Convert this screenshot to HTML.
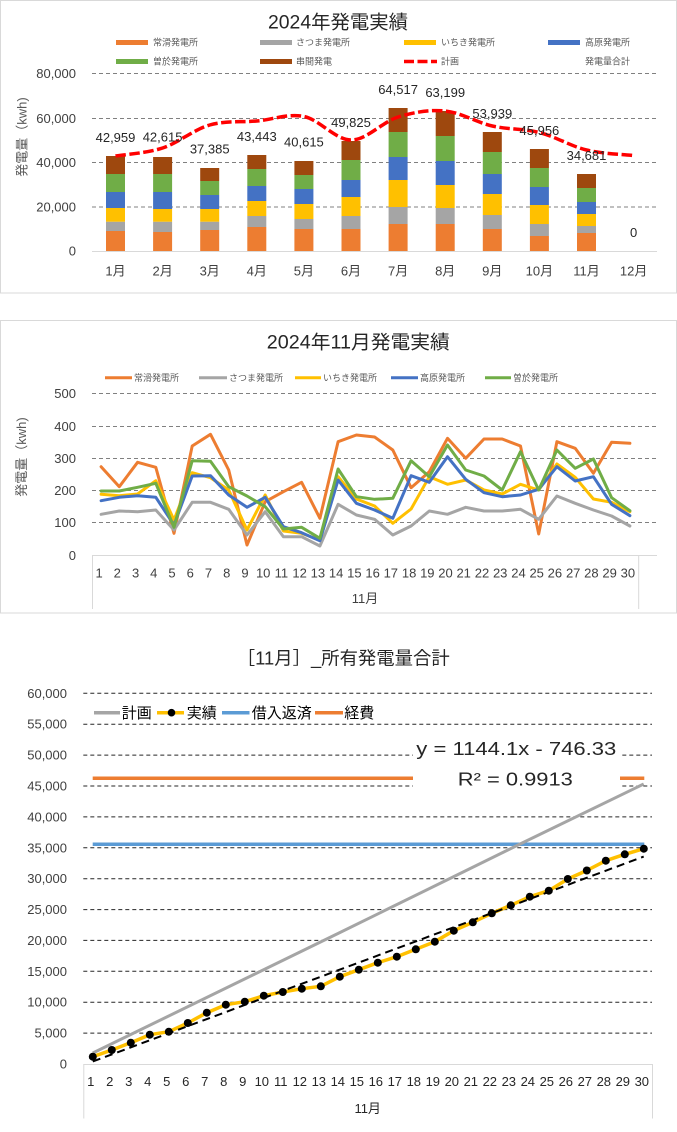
<!DOCTYPE html>
<html><head><meta charset="utf-8"><style>
html,body{margin:0;padding:0;background:#fff;}
svg{display:block;}
text{font-family:"Liberation Sans","Noto Sans CJK JP",sans-serif;}
</style></head><body>
<svg width="677" height="1132" viewBox="0 0 677 1132" xmlns="http://www.w3.org/2000/svg">
<rect x="0" y="0" width="677" height="1132" fill="#fff"/>

<!-- ================= CHART 1 ================= -->
<rect x="0.5" y="0.5" width="676" height="292.5" fill="#fff" stroke="#d9d9d9"/>
<text x="338" y="28.5" font-size="19" text-anchor="middle" fill="#262626" textLength="140" lengthAdjust="spacingAndGlyphs">2024年発電実績</text>

<!-- legend -->
<g font-size="9" fill="#595959">
<rect x="116" y="40" width="32" height="5" fill="#ED7D31"/><text x="153" y="45.5">常滑発電所</text>
<rect x="260" y="40" width="32" height="5" fill="#A5A5A5"/><text x="296" y="45.5">さつま発電所</text>
<rect x="404" y="40" width="32" height="5" fill="#FFC000"/><text x="441" y="45.5">いちき発電所</text>
<rect x="548" y="40" width="32" height="5" fill="#4472C4"/><text x="585" y="45.5">高原発電所</text>
<rect x="116" y="59" width="32" height="5" fill="#70AD47"/><text x="153" y="64.5">曽於発電所</text>
<rect x="260" y="59" width="32" height="5" fill="#9E480E"/><text x="296" y="64.5">串間発電</text>
<line x1="404" y1="61.5" x2="437" y2="61.5" stroke="#FF0000" stroke-width="3.5" stroke-dasharray="10 3.5"/><text x="441" y="64.5">計画</text>
<text x="585" y="64.5">発電量合計</text>
</g>

<!-- gridlines -->
<g stroke="#808080" stroke-width="1" stroke-dasharray="4 3">
<line x1="92" y1="73.5" x2="657" y2="73.5"/>
<line x1="92" y1="118.5" x2="657" y2="118.5"/>
<line x1="92" y1="162.5" x2="657" y2="162.5"/>
<line x1="92" y1="207" x2="657" y2="207"/>
</g>
<line x1="92" y1="251.5" x2="657" y2="251.5" stroke="#d9d9d9" stroke-width="1"/>

<g font-size="13" fill="#404040" text-anchor="end">
<text x="76" y="78">80,000</text>
<text x="76" y="123">60,000</text>
<text x="76" y="167">40,000</text>
<text x="76" y="211.5">20,000</text>
<text x="76" y="255.5">0</text>
</g>
<text transform="translate(26.5,137) rotate(-90)" font-size="13" fill="#595959" text-anchor="middle">発電量（kwh)</text>

<!-- bars -->
<g>
<rect x="106" y="231" width="19" height="20" fill="#ED7D31"/><rect x="106" y="221.7" width="19" height="9.3" fill="#A5A5A5"/><rect x="106" y="208" width="19" height="13.7" fill="#FFC000"/><rect x="106" y="192" width="19" height="16" fill="#4472C4"/><rect x="106" y="174" width="19" height="18" fill="#70AD47"/><rect x="106" y="156" width="19" height="18" fill="#9E480E"/>
<rect x="153.1" y="232" width="19" height="19" fill="#ED7D31"/><rect x="153.1" y="221.7" width="19" height="10.3" fill="#A5A5A5"/><rect x="153.1" y="209" width="19" height="12.7" fill="#FFC000"/><rect x="153.1" y="192" width="19" height="17" fill="#4472C4"/><rect x="153.1" y="174" width="19" height="18" fill="#70AD47"/><rect x="153.1" y="157" width="19" height="17" fill="#9E480E"/>
<rect x="200.2" y="230" width="19" height="21" fill="#ED7D31"/><rect x="200.2" y="221.7" width="19" height="8.3" fill="#A5A5A5"/><rect x="200.2" y="209" width="19" height="12.7" fill="#FFC000"/><rect x="200.2" y="195" width="19" height="14" fill="#4472C4"/><rect x="200.2" y="181" width="19" height="14" fill="#70AD47"/><rect x="200.2" y="168" width="19" height="13" fill="#9E480E"/>
<rect x="247.3" y="227" width="19" height="24" fill="#ED7D31"/><rect x="247.3" y="216" width="19" height="11" fill="#A5A5A5"/><rect x="247.3" y="201" width="19" height="15" fill="#FFC000"/><rect x="247.3" y="186" width="19" height="15" fill="#4472C4"/><rect x="247.3" y="169" width="19" height="17" fill="#70AD47"/><rect x="247.3" y="155" width="19" height="14" fill="#9E480E"/>
<rect x="294.4" y="229" width="19" height="22" fill="#ED7D31"/><rect x="294.4" y="219" width="19" height="10" fill="#A5A5A5"/><rect x="294.4" y="204" width="19" height="15" fill="#FFC000"/><rect x="294.4" y="189" width="19" height="15" fill="#4472C4"/><rect x="294.4" y="175" width="19" height="14" fill="#70AD47"/><rect x="294.4" y="161" width="19" height="14" fill="#9E480E"/>
<rect x="341.5" y="229" width="19" height="22" fill="#ED7D31"/><rect x="341.5" y="216" width="19" height="13" fill="#A5A5A5"/><rect x="341.5" y="197" width="19" height="19" fill="#FFC000"/><rect x="341.5" y="180" width="19" height="17" fill="#4472C4"/><rect x="341.5" y="160" width="19" height="20" fill="#70AD47"/><rect x="341.5" y="141" width="19" height="19" fill="#9E480E"/>
<rect x="388.6" y="224" width="19" height="27" fill="#ED7D31"/><rect x="388.6" y="207" width="19" height="17" fill="#A5A5A5"/><rect x="388.6" y="180" width="19" height="27" fill="#FFC000"/><rect x="388.6" y="157" width="19" height="23" fill="#4472C4"/><rect x="388.6" y="132" width="19" height="25" fill="#70AD47"/><rect x="388.6" y="108" width="19" height="24" fill="#9E480E"/>
<rect x="435.7" y="224" width="19" height="27" fill="#ED7D31"/><rect x="435.7" y="208" width="19" height="16" fill="#A5A5A5"/><rect x="435.7" y="185" width="19" height="23" fill="#FFC000"/><rect x="435.7" y="161" width="19" height="24" fill="#4472C4"/><rect x="435.7" y="136" width="19" height="25" fill="#70AD47"/><rect x="435.7" y="111" width="19" height="25" fill="#9E480E"/>
<rect x="482.8" y="229" width="19" height="22" fill="#ED7D31"/><rect x="482.8" y="215" width="19" height="14" fill="#A5A5A5"/><rect x="482.8" y="194" width="19" height="21" fill="#FFC000"/><rect x="482.8" y="174" width="19" height="20" fill="#4472C4"/><rect x="482.8" y="152" width="19" height="22" fill="#70AD47"/><rect x="482.8" y="132" width="19" height="20" fill="#9E480E"/>
<rect x="529.9" y="236" width="19" height="15" fill="#ED7D31"/><rect x="529.9" y="224" width="19" height="12" fill="#A5A5A5"/><rect x="529.9" y="205" width="19" height="19" fill="#FFC000"/><rect x="529.9" y="187" width="19" height="18" fill="#4472C4"/><rect x="529.9" y="168" width="19" height="19" fill="#70AD47"/><rect x="529.9" y="149" width="19" height="19" fill="#9E480E"/>
<rect x="577" y="233" width="19" height="18" fill="#ED7D31"/><rect x="577" y="226" width="19" height="7" fill="#A5A5A5"/><rect x="577" y="214" width="19" height="12" fill="#FFC000"/><rect x="577" y="202" width="19" height="12" fill="#4472C4"/><rect x="577" y="188" width="19" height="14" fill="#70AD47"/><rect x="577" y="174" width="19" height="14" fill="#9E480E"/>
</g>

<!-- plan line -->
<path d="M115.5,156 C123.35,154.67 146.9,153.17 162.6,148 C178.3,142.83 194,129.5 209.7,125 C225.4,120.5 241.1,122.42 256.8,121 C272.5,119.58 288.2,113.33 303.9,116.5 C319.6,119.67 335.3,139.92 351,140 C366.7,140.08 382.4,121.83 398.1,117 C413.8,112.17 429.5,109.5 445.2,111 C460.9,112.5 476.6,122.42 492.3,126 C508,129.58 523.7,128.5 539.4,132.5 C555.1,136.5 570.8,146.17 586.5,150 C602.2,153.83 625.75,154.58 633.6,155.5" fill="none" stroke="#FF0000" stroke-width="3.5" stroke-dasharray="10.5 3.5"/>

<!-- data labels -->
<g font-size="13" fill="#262626" text-anchor="middle">
<text x="115.5" y="141.8">42,959</text>
<text x="162.6" y="141.5">42,615</text>
<text x="209.7" y="153.5">37,385</text>
<text x="256.8" y="141.2">43,443</text>
<text x="303.9" y="146.5">40,615</text>
<text x="351" y="127.2">49,825</text>
<text x="398.1" y="93.8">64,517</text>
<text x="445.2" y="97.2">63,199</text>
<text x="492.3" y="117.8">53,939</text>
<text x="539.4" y="135.2">45,956</text>
<text x="586.5" y="160.2">34,681</text>
<text x="633.6" y="237.2">0</text>
</g>

<!-- month labels -->
<g font-size="13" fill="#404040" text-anchor="middle">
<text x="115.5" y="275.5">1月</text>
<text x="162.6" y="275.5">2月</text>
<text x="209.7" y="275.5">3月</text>
<text x="256.8" y="275.5">4月</text>
<text x="303.9" y="275.5">5月</text>
<text x="351" y="275.5">6月</text>
<text x="398.1" y="275.5">7月</text>
<text x="445.2" y="275.5">8月</text>
<text x="492.3" y="275.5">9月</text>
<text x="539.4" y="275.5">10月</text>
<text x="586.5" y="275.5">11月</text>
<text x="633.6" y="275.5">12月</text>
</g>

<!-- ================= CHART 2 ================= -->
<rect x="0.5" y="320.5" width="676" height="292.5" fill="#fff" stroke="#d9d9d9"/>
<text x="358.3" y="348.5" font-size="19" text-anchor="middle" fill="#262626" textLength="183" lengthAdjust="spacingAndGlyphs">2024年11月発電実績</text>

<g font-size="9" fill="#595959" stroke-width="3">
<line x1="105" y1="377.7" x2="132" y2="377.7" stroke="#ED7D31"/><text x="134" y="380.8">常滑発電所</text>
<line x1="199" y1="377.7" x2="227" y2="377.7" stroke="#A5A5A5"/><text x="229" y="380.8">さつま発電所</text>
<line x1="295" y1="377.7" x2="321" y2="377.7" stroke="#FFC000"/><text x="323" y="380.8">いちき発電所</text>
<line x1="391" y1="377.7" x2="418" y2="377.7" stroke="#4472C4"/><text x="420" y="380.8">高原発電所</text>
<line x1="485" y1="377.7" x2="511" y2="377.7" stroke="#70AD47"/><text x="513" y="380.8">曽於発電所</text>
</g>

<g stroke="#808080" stroke-width="1" stroke-dasharray="4 3">
<line x1="92" y1="393.5" x2="657" y2="393.5"/>
<line x1="92" y1="426.5" x2="657" y2="426.5"/>
<line x1="92" y1="458.5" x2="657" y2="458.5"/>
<line x1="92" y1="490.5" x2="657" y2="490.5"/>
<line x1="92" y1="522.5" x2="657" y2="522.5"/>
</g>
<g stroke="#d9d9d9" stroke-width="1">
<line x1="92" y1="555.5" x2="657" y2="555.5"/>
<line x1="92.5" y1="555.5" x2="92.5" y2="609"/>
<line x1="638.7" y1="555.5" x2="638.7" y2="609"/>
</g>

<g font-size="13" fill="#404040" text-anchor="end">
<text x="76" y="398">500</text>
<text x="76" y="431">400</text>
<text x="76" y="463">300</text>
<text x="76" y="495">200</text>
<text x="76" y="527">100</text>
<text x="76" y="560">0</text>
</g>
<text transform="translate(26,457) rotate(-90)" font-size="13" fill="#595959" text-anchor="middle">発電量（kwh)</text>

<g fill="none" stroke-width="3" stroke-linejoin="round" stroke-linecap="round">
<polyline stroke="#ED7D31" points="101.1,466.7 119.3,486.7 137.6,462.3 155.8,467.3 174,533.3 192.2,446 210.5,434.3 228.7,470 247,545 265.2,501.7 283.4,491.7 301.6,482.3 319.9,518.3 338.1,441.7 356.4,435 374.6,437 392.8,450 411.1,487.7 429.3,471.7 447.5,438.3 465.7,458.3 484,439 502.2,439 520.5,446 538.7,534 556.9,441.7 575.2,448.3 593.4,473.3 611.6,442.3 629.9,443.3"/>
<polyline stroke="#A5A5A5" points="101.1,514.3 119.3,511 137.6,511.7 155.8,510 174,530 192.2,502.3 210.5,502.3 228.7,509.3 247,535 265.2,511.7 283.4,536.7 301.6,536.7 319.9,546 338.1,504.3 356.4,515 374.6,519.3 392.8,535 411.1,526 429.3,511 447.5,514.3 465.7,507.3 484,511 502.2,511 520.5,509.3 538.7,519.3 556.9,496 575.2,503.3 593.4,510 611.6,516 629.9,526"/>
<polyline stroke="#FFC000" points="101.1,494.3 119.3,495.7 137.6,494 155.8,480.7 174,520 192.2,472.7 210.5,477.7 228.7,490 247,530 265.2,495 283.4,531 301.6,533.3 319.9,540 338.1,476.7 356.4,499 374.6,506 392.8,523.3 411.1,509 429.3,476.7 447.5,484.3 465.7,480 484,490 502.2,494 520.5,484.3 538.7,490 556.9,464 575.2,477.3 593.4,499 611.6,502.3 629.9,511.7"/>
<polyline stroke="#4472C4" points="101.1,500.7 119.3,497.3 137.6,495.7 155.8,497.3 174,525 192.2,476 210.5,475.7 228.7,495 247,507.3 265.2,497.3 283.4,526.7 301.6,532.7 319.9,540.7 338.1,480 356.4,503.3 374.6,510 392.8,518.3 411.1,475.7 429.3,482.3 447.5,456.7 465.7,479.3 484,492.7 502.2,496.7 520.5,495 538.7,489.3 556.9,466.7 575.2,481 593.4,476.7 611.6,504.3 629.9,515.7"/>
<polyline stroke="#70AD47" points="101.1,491 119.3,491 137.6,487.3 155.8,483.3 174,527.3 192.2,460.7 210.5,461.3 228.7,486.7 247,496 265.2,506.7 283.4,529 301.6,527.3 319.9,538.3 338.1,469 356.4,496.7 374.6,499.3 392.8,498.3 411.1,460.7 429.3,476.7 447.5,445 465.7,470 484,476 502.2,490 520.5,451.7 538.7,490 556.9,450 575.2,468.3 593.4,459 611.6,497.7 629.9,510.7"/>
</g>

<g font-size="13" fill="#404040" text-anchor="middle">
<text x="99.1" y="577.5">1</text><text x="117.3" y="577.5">2</text><text x="135.6" y="577.5">3</text><text x="153.8" y="577.5">4</text><text x="172" y="577.5">5</text><text x="190.2" y="577.5">6</text><text x="208.5" y="577.5">7</text><text x="226.7" y="577.5">8</text><text x="245" y="577.5">9</text><text x="263.2" y="577.5">10</text><text x="281.4" y="577.5">11</text><text x="299.6" y="577.5">12</text><text x="317.9" y="577.5">13</text><text x="336.1" y="577.5">14</text><text x="354.4" y="577.5">15</text><text x="372.6" y="577.5">16</text><text x="390.8" y="577.5">17</text><text x="409.1" y="577.5">18</text><text x="427.3" y="577.5">19</text><text x="445.5" y="577.5">20</text><text x="463.7" y="577.5">21</text><text x="482" y="577.5">22</text><text x="500.2" y="577.5">23</text><text x="518.5" y="577.5">24</text><text x="536.7" y="577.5">25</text><text x="554.9" y="577.5">26</text><text x="573.2" y="577.5">27</text><text x="591.4" y="577.5">28</text><text x="609.6" y="577.5">29</text><text x="627.9" y="577.5">30</text>
<text x="365" y="603">11月</text>
</g>

<!-- ================= CHART 3 ================= -->
<text x="343.3" y="664.5" font-size="18" text-anchor="middle" fill="#262626" textLength="213" lengthAdjust="spacingAndGlyphs">［11月］_所有発電量合計</text>

<g stroke="#262626" stroke-width="1" stroke-dasharray="4 3">
<line x1="83.3" y1="693.3" x2="652" y2="693.3"/>
<line x1="83.3" y1="724.2" x2="652" y2="724.2"/>
<line x1="83.3" y1="755.1" x2="652" y2="755.1"/>
<line x1="83.3" y1="786" x2="652" y2="786"/>
<line x1="83.3" y1="816.9" x2="652" y2="816.9"/>
<line x1="83.3" y1="847.8" x2="652" y2="847.8"/>
<line x1="83.3" y1="878.7" x2="652" y2="878.7"/>
<line x1="83.3" y1="909.6" x2="652" y2="909.6"/>
<line x1="83.3" y1="940.4" x2="652" y2="940.4"/>
<line x1="83.3" y1="971.3" x2="652" y2="971.3"/>
<line x1="83.3" y1="1002.2" x2="652" y2="1002.2"/>
<line x1="83.3" y1="1033.1" x2="652" y2="1033.1"/>
</g>
<g stroke="#d9d9d9" stroke-width="1">
<line x1="83.3" y1="1064.5" x2="653" y2="1064.5"/>
<line x1="83.8" y1="1064.5" x2="83.8" y2="1118.5"/>
<line x1="652.5" y1="1064.5" x2="652.5" y2="1118.5"/>
</g>

<g font-size="13" fill="#404040" text-anchor="end">
<text x="67" y="697.8">60,000</text>
<text x="67" y="728.7">55,000</text>
<text x="67" y="759.6">50,000</text>
<text x="67" y="790.5">45,000</text>
<text x="67" y="821.4">40,000</text>
<text x="67" y="852.3">35,000</text>
<text x="67" y="883.2">30,000</text>
<text x="67" y="914.1">25,000</text>
<text x="67" y="944.9">20,000</text>
<text x="67" y="975.8">15,000</text>
<text x="67" y="1006.7">10,000</text>
<text x="67" y="1037.6">5,000</text>
<text x="67" y="1068.5">0</text>
</g>

<!-- legend -->
<g font-size="15" fill="#000">
<line x1="94" y1="712.7" x2="120" y2="712.7" stroke="#A5A5A5" stroke-width="3.5"/><text x="121.7" y="718">計画</text>
<line x1="157" y1="712.7" x2="184" y2="712.7" stroke="#FFC000" stroke-width="3.5"/><circle cx="171.5" cy="712.7" r="3.8" fill="#000"/><text x="186.7" y="718">実績</text>
<line x1="222" y1="712.7" x2="249.5" y2="712.7" stroke="#5B9BD5" stroke-width="3.5"/><text x="251.7" y="718">借入返済</text>
<line x1="315" y1="712.7" x2="343" y2="712.7" stroke="#ED7D31" stroke-width="3.5"/><text x="344.3" y="718">経費</text>
</g>

<!-- series -->
<line x1="92.7" y1="778.3" x2="644.3" y2="778.3" stroke="#ED7D31" stroke-width="3.5"/>
<line x1="92.7" y1="844.3" x2="644.3" y2="844.3" stroke="#5B9BD5" stroke-width="3.5"/>
<polyline fill="none" stroke="#A5A5A5" stroke-width="3" stroke-linejoin="round" points="92.8,1053 340,932.5 455,876 517,845.5 643.7,784"/>
<polyline fill="none" stroke="#FFC000" stroke-width="3.5" stroke-linejoin="round" points="92.8,1056.7 111.8,1050 130.8,1042.7 149.8,1034.7 168.8,1031.7 187.8,1023 206.8,1012.7 225.8,1004.7 244.8,1001.7 263.8,995.7 282.8,992 301.8,988.7 320.8,986.3 339.8,976.7 358.8,969.7 377.8,962.7 396.8,956.7 415.8,949.3 434.8,941.7 453.8,930.7 472.8,922.3 491.8,913.3 510.8,905.3 529.8,896.7 548.8,890.7 567.8,879 586.8,870.5 605.8,860.7 624.8,854.3 643.8,848.7"/>
<line x1="92.8" y1="1061.5" x2="643.7" y2="856.6" stroke="#000" stroke-width="2" stroke-dasharray="8 5"/>
<g fill="#000">
<circle cx="92.8" cy="1056.7" r="4"/><circle cx="111.8" cy="1050" r="4"/><circle cx="130.8" cy="1042.7" r="4"/><circle cx="149.8" cy="1034.7" r="4"/><circle cx="168.8" cy="1031.7" r="4"/><circle cx="187.8" cy="1023" r="4"/><circle cx="206.8" cy="1012.7" r="4"/><circle cx="225.8" cy="1004.7" r="4"/><circle cx="244.8" cy="1001.7" r="4"/><circle cx="263.8" cy="995.7" r="4"/><circle cx="282.8" cy="992" r="4"/><circle cx="301.8" cy="988.7" r="4"/><circle cx="320.8" cy="986.3" r="4"/><circle cx="339.8" cy="976.7" r="4"/><circle cx="358.8" cy="969.7" r="4"/><circle cx="377.8" cy="962.7" r="4"/><circle cx="396.8" cy="956.7" r="4"/><circle cx="415.8" cy="949.3" r="4"/><circle cx="434.8" cy="941.7" r="4"/><circle cx="453.8" cy="930.7" r="4"/><circle cx="472.8" cy="922.3" r="4"/><circle cx="491.8" cy="913.3" r="4"/><circle cx="510.8" cy="905.3" r="4"/><circle cx="529.8" cy="896.7" r="4"/><circle cx="548.8" cy="890.7" r="4"/><circle cx="567.8" cy="879" r="4"/><circle cx="586.8" cy="870.5" r="4"/><circle cx="605.8" cy="860.7" r="4"/><circle cx="624.8" cy="854.3" r="4"/><circle cx="643.8" cy="848.7" r="4"/>
</g>

<!-- trendline label -->
<rect x="413" y="730" width="207" height="60" fill="#fff"/>
<text x="516.3" y="755" font-size="18" fill="#262626" text-anchor="middle" textLength="200" lengthAdjust="spacingAndGlyphs">y = 1144.1x - 746.33</text>
<text x="515.3" y="785.5" font-size="18" fill="#262626" text-anchor="middle" textLength="115" lengthAdjust="spacingAndGlyphs">R² = 0.9913</text>

<g font-size="13" fill="#262626" text-anchor="middle">
<text x="90.8" y="1086">1</text><text x="109.8" y="1086">2</text><text x="128.8" y="1086">3</text><text x="147.8" y="1086">4</text><text x="166.8" y="1086">5</text><text x="185.8" y="1086">6</text><text x="204.8" y="1086">7</text><text x="223.8" y="1086">8</text><text x="242.8" y="1086">9</text><text x="261.8" y="1086">10</text><text x="280.8" y="1086">11</text><text x="299.8" y="1086">12</text><text x="318.8" y="1086">13</text><text x="337.8" y="1086">14</text><text x="356.8" y="1086">15</text><text x="375.8" y="1086">16</text><text x="394.8" y="1086">17</text><text x="413.8" y="1086">18</text><text x="432.8" y="1086">19</text><text x="451.8" y="1086">20</text><text x="470.8" y="1086">21</text><text x="489.8" y="1086">22</text><text x="508.8" y="1086">23</text><text x="527.8" y="1086">24</text><text x="546.8" y="1086">25</text><text x="565.8" y="1086">26</text><text x="584.8" y="1086">27</text><text x="603.8" y="1086">28</text><text x="622.8" y="1086">29</text><text x="641.8" y="1086">30</text>
<text x="367.7" y="1113">11月</text>
</g>
</svg>
</body></html>
